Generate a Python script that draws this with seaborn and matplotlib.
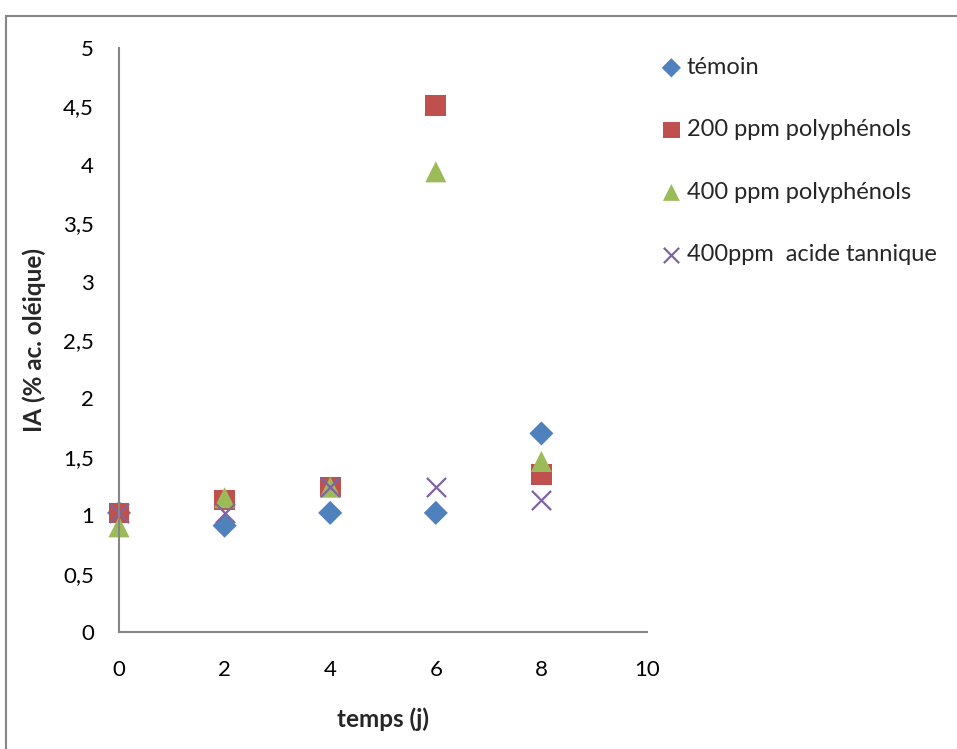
import matplotlib
matplotlib.use("Agg")
import matplotlib.pyplot as plt
import seaborn as sns
import pandas as pd
from matplotlib.patches import Rectangle

days = [0, 2, 4, 6, 8]
temoin = [1.02, 0.91, 1.02, 1.02, 1.70]
ppm200 = [1.02, 1.13, 1.24, 4.51, 1.35]
ppm400 = [0.90, 1.15, 1.24, 3.94, 1.46]
tannique = [1.02, 1.02, 1.24, 1.24, 1.13]

series_names = ["témoin", "200 ppm polyphénols", "400 ppm polyphénols", "400ppm  acide tannique"]
series_vals = [temoin, ppm200, ppm400, tannique]
colors = ["#4F81BD", "#C0504D", "#9BBB59", "#8064A2"]
markers = ["D", "s", "^", "x"]
sizes = [150, 220, 230, 190]

x_ticks = [0, 2, 4, 6, 8, 10]
y_ticks = [0, 0.5, 1, 1.5, 2, 2.5, 3, 3.5, 4, 4.5, 5]
y_labels = ["0", "0,5", "1", "1,5", "2", "2,5", "3", "3,5", "4", "4,5", "5"]

rows = []
for name, vals in zip(series_names, series_vals):
    for d, v in zip(days, vals):
        rows.append({"temps": d, "IA": v, "serie": name})
df = pd.DataFrame(rows)

sns.set_theme(style="white")
plt.rcParams['font.family'] = ['Lato', 'DejaVu Sans']

fig = plt.figure(figsize=(9.57, 7.49), dpi=100)
ax = fig.add_axes([119/957, 1-632/749, (647-119)/957, (632-48)/749])

for name, c, m, s in zip(series_names, colors, markers, sizes):
    sub = df[df["serie"] == name]
    if m == "x":
        sns.scatterplot(data=sub, x="temps", y="IA", color=c, marker=m, s=s,
                        linewidth=1.6, ax=ax, label=name)
    else:
        sns.scatterplot(data=sub, x="temps", y="IA", color=c, marker=m, s=s,
                        edgecolor="none", ax=ax, label=name)

ax.set_xlim(0, 10)
ax.set_ylim(0, 5)
ax.set_xticks(x_ticks)
ax.set_xticklabels([str(t) for t in x_ticks])
ax.set_yticks(y_ticks)
ax.set_yticklabels(y_labels)
ax.tick_params(axis="both", length=0, labelsize=16, colors="black")
ax.tick_params(axis="x", pad=20)
ax.tick_params(axis="y", pad=18)
for side in ["top", "right"]:
    ax.spines[side].set_visible(False)
for side in ["left", "bottom"]:
    ax.spines[side].set_color("#868686")
    ax.spines[side].set_linewidth(1.5)
for coll in ax.collections:
    coll.set_clip_on(False)

ax.set_xlabel("temps (j)", fontsize=17.5, fontweight="bold", labelpad=20)
ax.set_ylabel("IA (% ac. oléique)", fontsize=17.5, fontweight="bold", labelpad=12)

leg = ax.legend(loc="upper left", bbox_to_anchor=(656/957, 1-57/749),
                bbox_transform=fig.transFigure, frameon=False, fontsize=17,
                handletextpad=0.0, labelspacing=1.75, borderaxespad=0,
                borderpad=0, handlelength=1.3, markerscale=0.8)

fig.patches.append(Rectangle((5.5/957, -0.1), 1.2, 1.1 - 16/749,
                             transform=fig.transFigure, fill=False,
                             edgecolor="#868686", linewidth=1.5))

fig.savefig("out.png", dpi=100)
